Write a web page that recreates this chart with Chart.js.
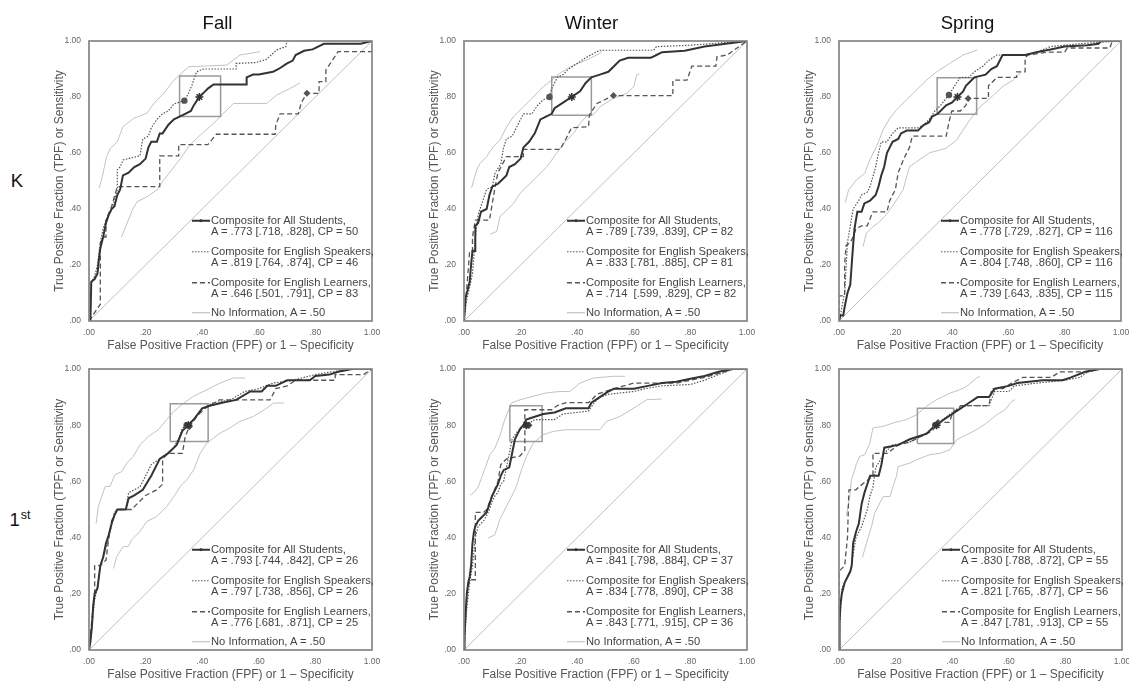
<!DOCTYPE html>
<html><head><meta charset="utf-8">
<script src="https://cdn.jsdelivr.net/npm/chart.js@4"></script>
<style>
html,body{margin:0;padding:0;background:#fff;overflow:hidden;}
body{position:relative;width:1129px;height:683px;font-family:"Liberation Sans",Arial,sans-serif;}
canvas{position:absolute;}
.hd{position:absolute;font-size:18.5px;color:#111;transform:translate(-50%,-50%);white-space:nowrap;line-height:20px;}
.leg{position:absolute;font-size:11.2px;color:#444;line-height:11.5px;white-space:pre;}
.grp{position:relative;padding-left:19px;margin-top:7.9px;}
.grp:first-child{margin-top:0}
.grp.last{margin-top:6.8px}
.grp svg{position:absolute;left:0;top:0;}
</style></head>
<body>
<script>
// ---------------- DATA ----------------
const seasons = ["Fall", "Winter", "Spring"];
const grades = ["K", "1st"];
const tickLabels = [".00", ".20", ".40", ".60", ".80", "1.00"];
const xTitle = "False Positive Fraction (FPF) or 1 \u2013 Specificity";
const yTitle = "True Positive Fraction (TPF) or Sensitivity";
const seriesNames = ["Composite for All Students,", "Composite for English Speakers,", "Composite for English Learners,", "No Information, A = .50"];
const noInfo = [[0,0],[1,1]];

// Fall K
const fallK_all = [[0,0],[0.005,0],[0.008,0.14],[0.02,0.15],[0.03,0.17],[0.035,0.22],[0.04,0.26],[0.05,0.30],[0.06,0.35],[0.07,0.38],[0.08,0.40],[0.09,0.41],[0.10,0.45],[0.11,0.47],[0.12,0.52],[0.14,0.53],[0.16,0.55],[0.18,0.56],[0.20,0.58],[0.21,0.62],[0.22,0.64],[0.24,0.64],[0.25,0.67],[0.26,0.67],[0.28,0.70],[0.30,0.72],[0.32,0.73],[0.34,0.74],[0.36,0.75],[0.37,0.77],[0.39,0.80],[0.41,0.82],[0.42,0.83],[0.44,0.845],[0.557,0.845],[0.557,0.87],[0.58,0.88],[0.60,0.88],[0.65,0.89],[0.67,0.90],[0.70,0.92],[0.72,0.93],[0.73,0.95],[0.76,0.965],[0.79,0.97],[0.83,0.99],[0.96,0.99],[1,1]];
const fallK_es = [[0,0],[0,0.13],[0.01,0.14],[0.02,0.16],[0.03,0.20],[0.04,0.28],[0.05,0.33],[0.06,0.36],[0.08,0.40],[0.09,0.43],[0.10,0.47],[0.10,0.54],[0.11,0.55],[0.12,0.575],[0.14,0.58],[0.18,0.59],[0.19,0.65],[0.21,0.66],[0.22,0.69],[0.24,0.72],[0.26,0.74],[0.28,0.75],[0.30,0.775],[0.337,0.787],[0.35,0.81],[0.364,0.843],[0.38,0.89],[0.405,0.90],[0.52,0.90],[0.52,0.92],[0.59,0.923],[0.628,0.935],[0.663,0.968],[0.696,0.98],[0.70,1.0],[1,1]];
const fallK_el = [[0,0],[0.032,0.048],[0.04,0.06],[0.04,0.28],[0.053,0.30],[0.06,0.30],[0.06,0.36],[0.08,0.41],[0.10,0.48],[0.25,0.48],[0.25,0.59],[0.317,0.59],[0.317,0.63],[0.42,0.63],[0.45,0.667],[0.658,0.667],[0.66,0.70],[0.675,0.74],[0.74,0.74],[0.75,0.78],[0.77,0.813],[0.813,0.813],[0.813,0.855],[0.837,0.855],[0.837,0.896],[0.88,0.962],[1,0.962]];
const fallK_up = [[0.036,0.476],[0.047,0.515],[0.062,0.587],[0.076,0.617],[0.10,0.64],[0.11,0.667],[0.12,0.694],[0.158,0.724],[0.205,0.742],[0.229,0.777],[0.264,0.813],[0.30,0.86],[0.352,0.908],[0.487,0.914],[0.51,0.932],[0.534,0.95],[0.58,0.958],[0.604,0.962]];
const fallK_lo = [[0.115,0.30],[0.153,0.396],[0.17,0.426],[0.205,0.444],[0.24,0.468],[0.264,0.504],[0.30,0.55],[0.323,0.58],[0.352,0.622],[0.38,0.652],[0.44,0.706],[0.464,0.73],[0.51,0.777],[0.628,0.777],[0.663,0.807],[0.71,0.83],[0.745,0.85]];
const fallK_boxX = [0.32, 0.465];
const fallK_boxY = [0.73, 0.875];
const fallK_marks = [[0.39,0.80],[0.337,0.787],[0.77,0.813]];
const fallK_stats = ["A = .773 [.718, .828], CP = 50", "A = .819 [.764, .874], CP = 46", "A = .646 [.501, .791], CP = 83"];

// Winter K
const winterK_all = [[0,0],[0.005,0.08],[0.01,0.10],[0.02,0.14],[0.025,0.20],[0.03,0.25],[0.04,0.25],[0.04,0.34],[0.05,0.35],[0.06,0.39],[0.08,0.40],[0.09,0.45],[0.10,0.48],[0.12,0.49],[0.13,0.50],[0.15,0.52],[0.16,0.55],[0.18,0.56],[0.20,0.58],[0.21,0.62],[0.23,0.64],[0.25,0.67],[0.27,0.72],[0.29,0.73],[0.31,0.74],[0.32,0.76],[0.35,0.78],[0.38,0.80],[0.41,0.82],[0.43,0.85],[0.45,0.87],[0.48,0.88],[0.51,0.89],[0.53,0.91],[0.55,0.93],[0.58,0.94],[0.66,0.94],[0.68,0.95],[0.70,0.96],[0.78,0.965],[0.85,0.98],[1,1]];
const winterK_es = [[0,0],[0.01,0.08],[0.02,0.12],[0.03,0.17],[0.04,0.30],[0.05,0.38],[0.07,0.44],[0.08,0.47],[0.10,0.48],[0.11,0.53],[0.13,0.56],[0.14,0.62],[0.15,0.65],[0.17,0.66],[0.18,0.68],[0.20,0.72],[0.21,0.74],[0.24,0.74],[0.26,0.77],[0.28,0.79],[0.30,0.80],[0.31,0.83],[0.33,0.87],[0.35,0.88],[0.37,0.90],[0.40,0.92],[0.43,0.94],[0.46,0.957],[0.48,0.967],[0.67,0.967],[0.68,0.98],[0.80,0.985],[1,1]];
const winterK_el = [[0,0],[0.01,0.12],[0.02,0.25],[0.03,0.25],[0.03,0.30],[0.04,0.36],[0.09,0.36],[0.10,0.42],[0.11,0.48],[0.12,0.53],[0.15,0.587],[0.21,0.587],[0.21,0.613],[0.34,0.613],[0.36,0.65],[0.38,0.69],[0.44,0.694],[0.443,0.736],[0.47,0.777],[0.528,0.805],[0.738,0.805],[0.738,0.86],[0.788,0.86],[0.805,0.91],[0.89,0.91],[0.894,0.944],[0.93,0.95],[1,1]];
const winterK_up = [[0.027,0.477],[0.045,0.54],[0.057,0.563],[0.08,0.587],[0.104,0.623],[0.127,0.646],[0.151,0.694],[0.175,0.73],[0.21,0.765],[0.245,0.80],[0.28,0.837],[0.31,0.86],[0.346,0.89],[0.387,0.914],[0.434,0.932],[0.48,0.956],[0.49,0.968]];
const winterK_lo = [[0.092,0.31],[0.116,0.32],[0.127,0.373],[0.151,0.396],[0.175,0.42],[0.198,0.456],[0.222,0.48],[0.257,0.515],[0.292,0.55],[0.328,0.60],[0.357,0.64],[0.387,0.67],[0.41,0.706],[0.434,0.732],[0.457,0.736],[0.48,0.765],[0.528,0.795],[0.575,0.813],[0.60,0.837],[0.61,0.879],[0.62,0.882]];
const winterK_boxX = [0.31, 0.45];
const winterK_boxY = [0.735, 0.871];
const winterK_marks = [[0.381,0.80],[0.302,0.80],[0.528,0.805]];
const winterK_stats = ["A = .789 [.739, .839], CP = 82", "A = .833 [.781, .885], CP = 81", "A = .714  [.599, .829], CP = 82"];

// Spring K
const springK_all = [[0,0],[0.005,0.02],[0.015,0.02],[0.02,0.05],[0.03,0.10],[0.04,0.13],[0.045,0.20],[0.05,0.27],[0.055,0.33],[0.06,0.36],[0.065,0.39],[0.08,0.39],[0.09,0.42],[0.11,0.43],[0.12,0.44],[0.13,0.45],[0.14,0.48],[0.15,0.52],[0.16,0.55],[0.17,0.60],[0.18,0.62],[0.19,0.64],[0.21,0.65],[0.22,0.67],[0.24,0.68],[0.28,0.68],[0.30,0.70],[0.32,0.71],[0.33,0.73],[0.35,0.74],[0.38,0.77],[0.40,0.78],[0.42,0.80],[0.44,0.82],[0.45,0.84],[0.47,0.86],[0.48,0.87],[0.52,0.88],[0.54,0.90],[0.56,0.91],[0.58,0.95],[0.66,0.95],[0.70,0.96],[0.75,0.97],[0.80,0.98],[0.88,0.985],[0.92,0.99],[0.93,1.0],[1,1]];
const springK_es = [[0,0],[0.005,0.02],[0.01,0.05],[0.02,0.10],[0.03,0.28],[0.05,0.40],[0.07,0.43],[0.08,0.45],[0.10,0.46],[0.11,0.48],[0.13,0.55],[0.14,0.60],[0.15,0.64],[0.17,0.64],[0.19,0.67],[0.21,0.69],[0.28,0.69],[0.30,0.70],[0.32,0.72],[0.34,0.75],[0.36,0.77],[0.39,0.807],[0.41,0.84],[0.43,0.87],[0.46,0.87],[0.48,0.89],[0.51,0.91],[0.53,0.93],[0.56,0.95],[0.67,0.95],[0.70,0.96],[0.75,0.98],[0.85,0.99],[0.92,0.995],[1,1]];
const springK_el = [[0,0],[0,0.09],[0.02,0.09],[0.02,0.20],[0.025,0.27],[0.04,0.28],[0.05,0.30],[0.06,0.33],[0.08,0.34],[0.10,0.34],[0.12,0.39],[0.17,0.39],[0.18,0.43],[0.20,0.47],[0.21,0.53],[0.23,0.58],[0.25,0.62],[0.26,0.66],[0.38,0.66],[0.39,0.71],[0.40,0.75],[0.43,0.75],[0.45,0.77],[0.458,0.795],[0.53,0.795],[0.53,0.84],[0.56,0.87],[0.63,0.87],[0.63,0.89],[0.66,0.89],[0.66,0.94],[0.67,0.95],[0.74,0.96],[0.80,0.96],[0.81,0.975],[0.96,0.975],[0.97,1.0],[1,1]];
const springK_up = [[0.022,0.423],[0.034,0.468],[0.062,0.504],[0.091,0.527],[0.109,0.575],[0.133,0.623],[0.156,0.682],[0.18,0.724],[0.204,0.754],[0.239,0.79],[0.275,0.825],[0.31,0.86],[0.346,0.89],[0.393,0.92],[0.44,0.95],[0.49,0.968]];
const springK_lo = [[0.085,0.265],[0.097,0.313],[0.12,0.337],[0.138,0.349],[0.162,0.373],[0.18,0.396],[0.204,0.432],[0.227,0.468],[0.25,0.551],[0.275,0.569],[0.322,0.601],[0.38,0.617],[0.417,0.646],[0.44,0.682],[0.464,0.718],[0.50,0.765],[0.535,0.795],[0.58,0.837],[0.618,0.861],[0.647,0.89]];
const springK_boxX = [0.348, 0.488];
const springK_boxY = [0.738, 0.869];
const springK_marks = [[0.42,0.80],[0.39,0.807],[0.458,0.795]];
const springK_stats = ["A = .778 [.729, .827], CP = 116", "A = .804 [.748, .860], CP = 116", "A = .739 [.643, .835], CP = 115"];

// Fall 1st
const fall1_all = [[0,0],[0.005,0.03],[0.01,0.08],[0.015,0.16],[0.02,0.20],[0.03,0.22],[0.035,0.26],[0.04,0.30],[0.05,0.33],[0.06,0.38],[0.07,0.41],[0.08,0.45],[0.09,0.48],[0.10,0.50],[0.13,0.50],[0.14,0.54],[0.16,0.55],[0.19,0.57],[0.22,0.62],[0.25,0.68],[0.28,0.70],[0.31,0.73],[0.33,0.78],[0.35,0.80],[0.37,0.82],[0.40,0.86],[0.43,0.87],[0.47,0.88],[0.52,0.89],[0.57,0.92],[0.61,0.92],[0.63,0.94],[0.66,0.94],[0.70,0.96],[0.78,0.96],[0.80,0.975],[0.85,0.98],[0.88,0.99],[0.93,1.0],[1,1]];
const fall1_es = [[0,0],[0.01,0.08],[0.02,0.18],[0.03,0.22],[0.04,0.30],[0.05,0.33],[0.07,0.40],[0.09,0.49],[0.10,0.50],[0.13,0.50],[0.14,0.56],[0.18,0.58],[0.21,0.64],[0.22,0.66],[0.25,0.68],[0.30,0.72],[0.32,0.76],[0.33,0.79],[0.35,0.80],[0.37,0.82],[0.40,0.86],[0.44,0.88],[0.50,0.89],[0.55,0.92],[0.60,0.93],[0.65,0.95],[0.72,0.96],[0.80,0.98],[0.86,0.99],[0.93,1.0],[1,1]];
const fall1_el = [[0,0],[0.02,0.21],[0.02,0.30],[0.04,0.30],[0.06,0.32],[0.07,0.40],[0.08,0.46],[0.10,0.50],[0.15,0.50],[0.17,0.52],[0.20,0.55],[0.24,0.57],[0.26,0.59],[0.26,0.68],[0.28,0.70],[0.33,0.70],[0.34,0.76],[0.355,0.795],[0.38,0.83],[0.41,0.86],[0.46,0.89],[0.64,0.89],[0.66,0.93],[0.70,0.94],[0.73,0.96],[0.87,0.96],[0.87,0.98],[0.97,0.98],[1,1]];
const fall1_up = [[0.025,0.449],[0.033,0.511],[0.045,0.546],[0.057,0.582],[0.074,0.582],[0.092,0.624],[0.116,0.635],[0.133,0.665],[0.157,0.689],[0.18,0.73],[0.21,0.76],[0.245,0.784],[0.275,0.82],[0.30,0.849],[0.328,0.873],[0.369,0.903],[0.416,0.926],[0.463,0.95],[0.51,0.968],[0.552,0.968]];
const fall1_lo = [[0.087,0.29],[0.098,0.333],[0.121,0.368],[0.139,0.368],[0.151,0.392],[0.18,0.422],[0.204,0.457],[0.239,0.475],[0.275,0.511],[0.30,0.546],[0.322,0.582],[0.346,0.606],[0.37,0.641],[0.393,0.70],[0.416,0.736],[0.44,0.754],[0.463,0.772],[0.487,0.784],[0.534,0.814],[0.581,0.831],[0.629,0.861],[0.652,0.879],[0.688,0.879]];
const fall1_boxX = [0.287, 0.421];
const fall1_boxY = [0.742, 0.876];
const fall1_marks = [[0.351,0.80],[0.345,0.80],[0.355,0.795]];
const fall1_stats = ["A = .793 [.744, .842], CP = 26", "A = .797 [.738, .856], CP = 26", "A = .776 [.681, .871], CP = 25"];

// Winter 1st
const winter1_all = [[0,0],[0.002,0.05],[0.005,0.12],[0.01,0.20],[0.015,0.24],[0.02,0.26],[0.025,0.30],[0.03,0.38],[0.035,0.42],[0.04,0.44],[0.05,0.46],[0.06,0.47],[0.07,0.48],[0.08,0.49],[0.09,0.52],[0.10,0.55],[0.11,0.57],[0.12,0.59],[0.13,0.62],[0.14,0.64],[0.16,0.65],[0.17,0.70],[0.18,0.75],[0.19,0.77],[0.20,0.79],[0.21,0.80],[0.22,0.82],[0.25,0.83],[0.28,0.84],[0.32,0.845],[0.36,0.86],[0.44,0.86],[0.45,0.88],[0.48,0.90],[0.51,0.92],[0.53,0.93],[0.60,0.93],[0.65,0.94],[0.70,0.95],[0.75,0.955],[0.80,0.965],[0.85,0.975],[0.90,0.99],[0.95,1.0],[1,1]];
const winter1_es = [[0,0],[0.003,0.05],[0.01,0.15],[0.02,0.24],[0.03,0.30],[0.04,0.40],[0.05,0.44],[0.07,0.46],[0.08,0.48],[0.09,0.50],[0.10,0.53],[0.11,0.55],[0.12,0.56],[0.13,0.59],[0.14,0.60],[0.15,0.65],[0.16,0.70],[0.17,0.75],[0.19,0.78],[0.22,0.80],[0.25,0.82],[0.32,0.82],[0.35,0.84],[0.44,0.85],[0.46,0.88],[0.48,0.90],[0.51,0.91],[0.60,0.92],[0.64,0.93],[0.70,0.94],[0.80,0.945],[0.85,0.96],[0.90,0.98],[0.95,1.0],[1,1]];
const winter1_el = [[0,0],[0.005,0.10],[0.01,0.20],[0.02,0.25],[0.04,0.25],[0.04,0.49],[0.07,0.49],[0.08,0.50],[0.10,0.55],[0.12,0.60],[0.13,0.66],[0.15,0.68],[0.197,0.69],[0.215,0.71],[0.215,0.855],[0.31,0.855],[0.33,0.87],[0.36,0.88],[0.44,0.88],[0.47,0.91],[0.50,0.92],[0.53,0.93],[0.60,0.95],[0.75,0.95],[0.80,0.96],[0.85,0.97],[0.92,0.99],[0.95,1.0],[1,1]];
const winter1_up = [[0.022,0.551],[0.038,0.564],[0.05,0.58],[0.061,0.61],[0.077,0.653],[0.091,0.695],[0.109,0.718],[0.126,0.76],[0.144,0.82],[0.168,0.879],[0.197,0.89],[0.244,0.903],[0.292,0.915],[0.339,0.92],[0.374,0.92],[0.41,0.95],[0.457,0.968],[0.528,0.974],[0.569,0.974]];
const winter1_lo = [[0.085,0.398],[0.109,0.41],[0.126,0.463],[0.15,0.511],[0.168,0.546],[0.185,0.582],[0.203,0.641],[0.221,0.689],[0.244,0.736],[0.28,0.766],[0.315,0.778],[0.362,0.784],[0.48,0.784],[0.504,0.814],[0.551,0.831],[0.61,0.867],[0.646,0.891],[0.699,0.893]];
const winter1_boxX = [0.162, 0.276];
const winter1_boxY = [0.742, 0.869];
const winter1_marks = [[0.22,0.80],[0.225,0.80],[0.23,0.80]];
const winter1_stats = ["A = .841 [.798, .884], CP = 37", "A = .834 [.778, .890], CP = 38", "A = .843 [.771, .915], CP = 36"];

// Spring 1st
const spring1_all = [[0,0],[0.002,0.10],[0.005,0.16],[0.01,0.20],[0.02,0.24],[0.03,0.26],[0.04,0.28],[0.045,0.30],[0.05,0.38],[0.06,0.42],[0.07,0.45],[0.08,0.52],[0.09,0.56],[0.10,0.59],[0.11,0.62],[0.14,0.62],[0.15,0.66],[0.16,0.72],[0.21,0.73],[0.25,0.75],[0.28,0.76],[0.31,0.77],[0.33,0.79],[0.345,0.80],[0.37,0.82],[0.40,0.84],[0.43,0.86],[0.46,0.88],[0.49,0.90],[0.53,0.90],[0.55,0.93],[0.60,0.94],[0.63,0.95],[0.72,0.96],[0.79,0.96],[0.82,0.97],[0.87,0.99],[0.92,1.0],[1,1]];
const spring1_es = [[0,0],[0.003,0.10],[0.01,0.22],[0.03,0.26],[0.04,0.28],[0.05,0.34],[0.06,0.40],[0.08,0.44],[0.10,0.50],[0.11,0.55],[0.12,0.58],[0.13,0.65],[0.16,0.70],[0.19,0.73],[0.25,0.74],[0.29,0.76],[0.32,0.78],[0.34,0.80],[0.38,0.83],[0.42,0.86],[0.45,0.87],[0.53,0.87],[0.55,0.92],[0.60,0.92],[0.62,0.94],[0.70,0.95],[0.80,0.96],[0.85,0.97],[0.88,0.99],[0.93,1.0],[1,1]];
const spring1_el = [[0,0],[0,0.28],[0.02,0.30],[0.03,0.40],[0.035,0.57],[0.06,0.57],[0.07,0.58],[0.12,0.62],[0.12,0.70],[0.17,0.70],[0.21,0.73],[0.25,0.74],[0.29,0.76],[0.33,0.78],[0.35,0.81],[0.39,0.81],[0.40,0.84],[0.43,0.87],[0.53,0.87],[0.54,0.93],[0.58,0.93],[0.61,0.95],[0.65,0.97],[0.75,0.97],[0.78,0.99],[0.88,0.99],[0.92,1.0],[1,1]];
const spring1_up = [[0.026,0.479],[0.038,0.546],[0.044,0.606],[0.052,0.63],[0.061,0.66],[0.073,0.689],[0.091,0.695],[0.109,0.736],[0.12,0.79],[0.156,0.796],[0.191,0.808],[0.238,0.82],[0.274,0.837],[0.309,0.867],[0.345,0.891],[0.392,0.914],[0.427,0.926],[0.451,0.938],[0.486,0.968],[0.498,0.974]];
const spring1_lo = [[0.083,0.33],[0.097,0.38],[0.115,0.44],[0.126,0.487],[0.144,0.523],[0.156,0.546],[0.18,0.546],[0.191,0.582],[0.203,0.618],[0.209,0.653],[0.25,0.665],[0.274,0.677],[0.321,0.695],[0.357,0.70],[0.392,0.713],[0.416,0.748],[0.451,0.766],[0.486,0.784],[0.522,0.808],[0.557,0.837],[0.587,0.855],[0.61,0.885],[0.622,0.891]];
const spring1_boxX = [0.277, 0.405];
const spring1_boxY = [0.735, 0.86];
const spring1_marks = [[0.345,0.80],[0.34,0.80],[0.35,0.81]];
const spring1_stats = ["A = .830 [.788, .872], CP = 55", "A = .821 [.765, .877], CP = 56", "A = .847 [.781, .913], CP = 55"];

// ---------------- LAYOUT (pixel placement of plot areas) ----------------
const panels = [
  {L:89,  T:41,  R:372,  B:321, all:fallK_all, es:fallK_es, el:fallK_el, up:fallK_up, lo:fallK_lo, bx:fallK_boxX, by:fallK_boxY, mk:fallK_marks, st:fallK_stats},
  {L:464, T:41,  R:747,  B:321, all:winterK_all, es:winterK_es, el:winterK_el, up:winterK_up, lo:winterK_lo, bx:winterK_boxX, by:winterK_boxY, mk:winterK_marks, st:winterK_stats},
  {L:839, T:41,  R:1121, B:321, all:springK_all, es:springK_es, el:springK_el, up:springK_up, lo:springK_lo, bx:springK_boxX, by:springK_boxY, mk:springK_marks, st:springK_stats},
  {L:89,  T:369, R:372,  B:650, all:fall1_all, es:fall1_es, el:fall1_el, up:fall1_up, lo:fall1_lo, bx:fall1_boxX, by:fall1_boxY, mk:fall1_marks, st:fall1_stats},
  {L:464, T:369, R:747,  B:650, all:winter1_all, es:winter1_es, el:winter1_el, up:winter1_up, lo:winter1_lo, bx:winter1_boxX, by:winter1_boxY, mk:winter1_marks, st:winter1_stats},
  {L:839, T:369, R:1122, B:650, all:spring1_all, es:spring1_es, el:spring1_el, up:spring1_up, lo:spring1_lo, bx:spring1_boxX, by:spring1_boxY, mk:spring1_marks, st:spring1_stats}
];

const FONT = '"Liberation Sans", Arial, sans-serif';
const YW = 37, XH = 32, PT = 15, PR = 17;
const toXY = a => a.map(p => ({x: p[0], y: p[1]}));

const borderPlugin = {
  id: 'plotBorder',
  afterDatasetsDraw(chart) {
    const a = chart.chartArea, ctx = chart.ctx;
    ctx.save();
    ctx.strokeStyle = '#858585';
    ctx.lineWidth = 1.7;
    ctx.strokeRect(a.left, a.top, a.right - a.left, a.bottom - a.top);
    ctx.restore();
  }
};

function lineDs(data, color, width, dash) {
  return {data: toXY(data), showLine: true, borderColor: color, backgroundColor: color,
          borderWidth: width, borderDash: dash || [], pointRadius: 0, fill: false, tension: 0};
}

panels.forEach((p, i) => {
  const c = document.createElement('canvas');
  const w = (p.R - p.L) + YW + PR, h = (p.B - p.T) + PT + XH;
  c.width = w; c.height = h;
  c.style.left = (p.L - YW) + 'px';
  c.style.top = (p.T - PT) + 'px';
  c.style.width = w + 'px'; c.style.height = h + 'px';
  document.body.appendChild(c);

  const boxPts = [[p.bx[0], p.by[0]], [p.bx[1], p.by[0]], [p.bx[1], p.by[1]], [p.bx[0], p.by[1]], [p.bx[0], p.by[0]]];
  const datasets = [
    {data: toXY([p.mk[0]]), showLine: false, pointStyle: 'star', pointRadius: 4, borderWidth: 1.5, borderColor: '#333', backgroundColor: '#333'},
    {data: toXY([p.mk[1]]), showLine: false, pointStyle: 'circle', pointRadius: 3.2, borderWidth: 0, backgroundColor: '#555'},
    {data: toXY([p.mk[2]]), showLine: false, pointStyle: 'rectRot', pointRadius: 3.5, borderWidth: 0, backgroundColor: '#555'},
    lineDs(p.all, '#333', 2),
    lineDs(p.es, '#555', 1.2, [1.5, 1.5]),
    lineDs(p.el, '#555', 1.3, [5, 3]),
    lineDs(boxPts, '#9a9a9a', 1.5),
    lineDs(p.up, '#c2c2c2', 1),
    lineDs(p.lo, '#c2c2c2', 1),
    lineDs(noInfo, '#b0b0b0', 0.8)
  ];

  const axis = (title, fit, pad) => ({
    type: 'linear', min: 0, max: 1,
    grid: {display: false, drawTicks: false, tickLength: 0},
    border: {display: false},
    ticks: {stepSize: 0.2, padding: pad, color: '#666', autoSkip: false, maxRotation: 0,
            font: {size: 8.5, family: FONT}, callback: (v, idx) => tickLabels[idx]},
    title: {display: true, text: title, color: '#555', padding: 0, font: {size: 12, family: FONT}},
    afterFit: fit
  });
  const xa = axis(xTitle, s => { s.height = XH; }, 7);
  const ya = axis(yTitle, s => { s.width = YW; }, 8);

  new Chart(c, {
    type: 'scatter',
    data: {datasets},
    options: {
      responsive: false, animation: false, devicePixelRatio: 1,
      layout: {padding: {top: PT, right: PR, left: 0, bottom: 0}},
      plugins: {legend: {display: false}, tooltip: {enabled: false}},
      events: [],
      scales: {x: xa, y: ya}
    },
    plugins: [borderPlugin]
  });

  // in-plot legend (HTML text)
  const leg = document.createElement('div');
  leg.className = 'leg';
  leg.style.left = (p.R - 180) + 'px';
  leg.style.bottom = (683 - (p.B - 3)) + 'px';
  const samples = [
    '<line x1="0" y1="5.75" x2="18" y2="5.75" stroke="#333" stroke-width="2"/><circle cx="9" cy="5.75" r="1.4" fill="#333"/>',
    '<line x1="0" y1="5.75" x2="18" y2="5.75" stroke="#555" stroke-width="1.2" stroke-dasharray="1.5 1.5"/>',
    '<line x1="0" y1="5.75" x2="18" y2="5.75" stroke="#555" stroke-width="1.3" stroke-dasharray="5 3"/>',
    '<line x1="0" y1="5.75" x2="18" y2="5.75" stroke="#b8b8b8" stroke-width="1"/>'
  ];
  let html = '';
  for (let k = 0; k < 4; k++) {
    const txt = k < 3 ? seriesNames[k] + '\n' + p.st[k] : seriesNames[k];
    html += '<div class="grp' + (k === 3 ? ' last' : '') + '"><svg width="19" height="11.5">' + samples[k] + '</svg>' + txt + '</div>';
  }
  leg.innerHTML = html;
  document.body.appendChild(leg);
});

// headings
const heads = [[seasons[0], 217.5, 22.7], [seasons[1], 591.5, 22.7], [seasons[2], 967.5, 22.7]];
heads.forEach(hd => {
  const d = document.createElement('div');
  d.className = 'hd'; d.textContent = hd[0];
  d.style.left = hd[1] + 'px'; d.style.top = hd[2] + 'px';
  document.body.appendChild(d);
});
const gK = document.createElement('div');
gK.className = 'hd'; gK.textContent = grades[0];
gK.style.left = '17px'; gK.style.top = '181px';
document.body.appendChild(gK);
const g1 = document.createElement('div');
g1.className = 'hd';
g1.innerHTML = grades[1].charAt(0) + '<span style="font-size:12.5px;position:relative;top:-7px;margin-left:1px;">' + grades[1].slice(1) + '</span>';
g1.style.left = '20px'; g1.style.top = '521px';
document.body.appendChild(g1);
</script>
</body></html>
